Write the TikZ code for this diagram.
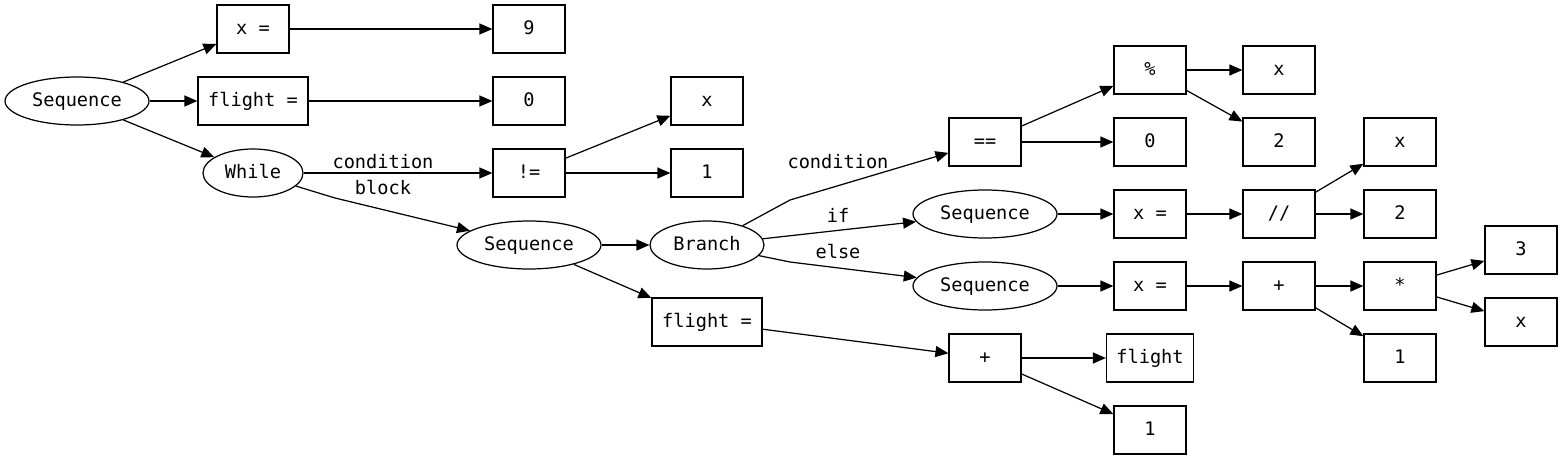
\documentclass[tikz,border=0pt]{standalone}
\usepackage{fontspec}
\setmonofont{DejaVu Sans Mono}
\usetikzlibrary{positioning,arrows.meta,shapes.geometric}

\begin{document}
\begin{tikzpicture}[x=0.02cm,y=-0.02cm,
    every node/.style={font=\ttfamily\fontsize{10.6}{12}\selectfont,
                       text height=7.5pt,text depth=1.8pt},
    box/.style={draw,rectangle,line width=0.7pt,minimum width=1.44cm,
                minimum height=0.96cm,inner sep=0pt},
    oval/.style={draw,ellipse,line width=0.7pt,minimum width=2.88cm,
                 minimum height=0.96cm,inner sep=0pt},
    ar/.style={-{Triangle[length=0.26cm,width=0.22cm]},line width=0.7pt}]
  \useasboundingbox (0,0) rectangle (1563,460);

  \node[oval]                     (seqA)    at (77,101)   {Sequence};
  \node[box]                      (xa)      at (253,29)   {x =};
  \node[box]                      (nine)    at (529,29)   {9};
  \node[box, minimum width=2.2cm] (fa)      at (253,101)  {flight =};
  \node[box]                      (zeroA)   at (529,101)  {0};
  \node[oval, minimum width=2cm]  (wh)      at (253,173)  {While};
  \node[box]                      (ne)      at (529,173)  {!=};
  \node[box]                      (xb)      at (707,101)  {x};
  \node[box]                      (oneA)    at (707,173)  {1};
  \node[oval]                     (seqB)    at (529,245)  {Sequence};
  \node[oval, minimum width=2.28cm] (br)    at (707,245)  {Branch};
  \node[box, minimum width=2.2cm] (fb)      at (707,322)  {flight =};
  \node[box]                      (eq)      at (985,142)  {==};
  \node[box]                      (mod)     at (1150,70)  {\%};
  \node[box]                      (xc)      at (1279,70)  {x};
  \node[box]                      (zeroB)   at (1150,142) {0};
  \node[box]                      (twoA)    at (1279,142) {2};
  \node[oval]                     (seqIf)   at (985,214)  {Sequence};
  \node[box]                      (xd)      at (1150,214) {x =};
  \node[box]                      (idiv)    at (1279,214) {//};
  \node[box]                      (xe)      at (1400,142) {x};
  \node[box]                      (twoB)    at (1400,214) {2};
  \node[oval]                     (seqElse) at (985,286)  {Sequence};
  \node[box]                      (xf)      at (1150,286) {x =};
  \node[box]                      (plA)     at (1279,286) {+};
  \node[box]                      (mul)     at (1400,286) {*};
  \node[box]                      (three)   at (1521,250) {3};
  \node[box]                      (xg)      at (1521,322) {x};
  \node[box]                      (oneB)    at (1400,358) {1};
  \node[box]                      (plB)     at (985,358)  {+};
  \node[box, minimum width=1.74cm] (fl)     at (1150,358) {flight};
  \node[box]                      (oneC)    at (1150,430) {1};

  \coordinate (bk) at (335,198);
  \coordinate (bc) at (790,200);
  \coordinate (be) at (790,262);

  \node (lcondA) at (383,163) {condition};
  \node (lblock) at (383,189) {block};
  \node (lcondB) at (838,163) {condition};
  \node (lif)    at (838,217) {if};
  \node (lelse)  at (838,253) {else};

  \foreach \a/\b in {seqA/xa, seqA/fa, seqA/wh, xa/nine, fa/zeroA, wh/ne,
                     ne/xb, ne/oneA, seqB/br, seqB/fb, br/seqIf, fb/plB,
                     eq/mod, eq/zeroB, mod/xc, mod/twoA, seqIf/xd, xd/idiv,
                     idiv/xe, idiv/twoB, seqElse/xf, xf/plA, plA/mul,
                     plA/oneB, mul/three, mul/xg, plB/fl, plB/oneC}
    \draw[ar] (\a) -- (\b);

  \draw[ar] (wh) -- (bk) -- (seqB);
  \draw[ar] (br) -- (bc) -- (eq);
  \draw[ar] (br) -- (be) -- (seqElse);
\end{tikzpicture}
\end{document}
